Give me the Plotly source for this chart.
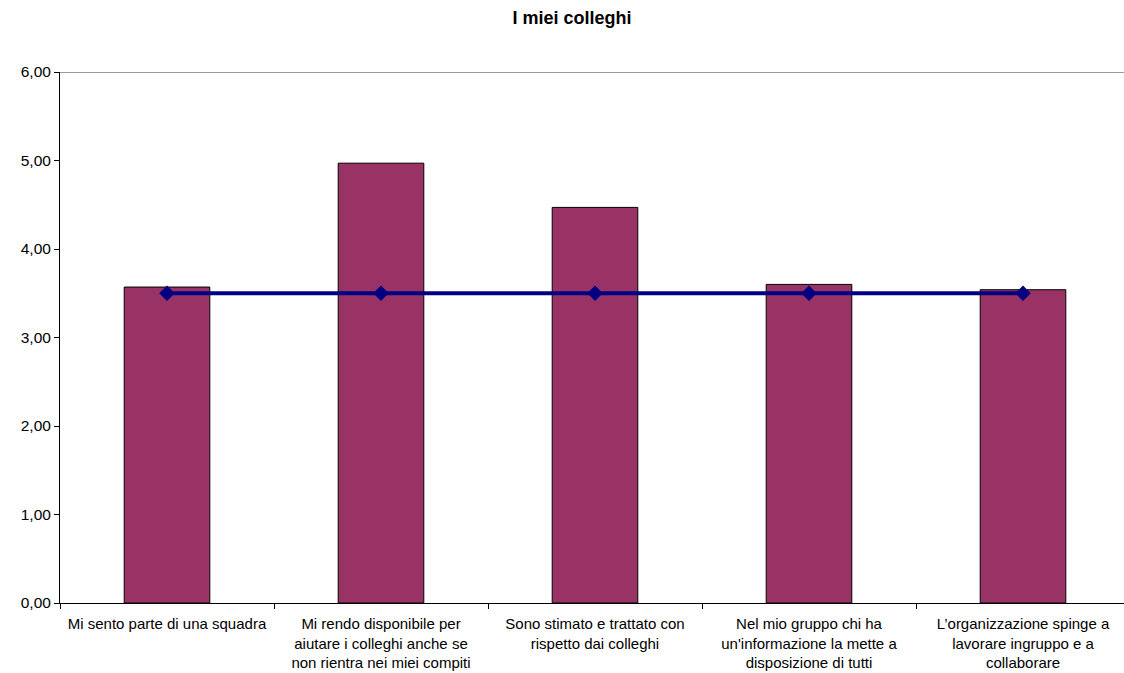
import plotly.graph_objects as go

categories = [
    "Mi sento parte di una squadra",
    "Mi rendo disponibile per<br>aiutare i colleghi anche se<br>non rientra nei miei compiti",
    "Sono stimato e trattato con<br>rispetto dai colleghi",
    "Nel mio gruppo chi ha<br>un'informazione la mette a<br>disposizione di tutti",
    "L\u2019organizzazione spinge a<br>lavorare ingruppo e a<br>collaborare",
]
bar_values = [3.57, 4.97, 4.47, 3.60, 3.54]
line_values = [3.50, 3.50, 3.50, 3.50, 3.50]
y_ticks = [0, 1, 2, 3, 4, 5, 6]

x_idx = list(range(len(categories)))
boundaries = [i - 0.5 for i in x_idx] + [len(categories) - 0.5]

fig = go.Figure()
fig.add_trace(go.Bar(
    x=x_idx, y=bar_values, width=0.40,
    marker=dict(color="#993366", line=dict(color="#000000", width=1)),
    showlegend=False, hoverinfo="y",
))
fig.add_trace(go.Scatter(
    x=x_idx, y=line_values, mode="lines+markers",
    line=dict(color="#000080", width=4),
    marker=dict(symbol="diamond", size=12, color="#000080"),
    showlegend=False,
))

font = "Liberation Sans, Arial, sans-serif"
fig.update_layout(
    width=1124, height=673,
    paper_bgcolor="white", plot_bgcolor="white",
    margin=dict(l=60, r=0, t=72, b=70),
    separators=",.",
    font=dict(family=font, size=15.5, color="black"),
    title=dict(text="<b>I miei colleghi</b>", x=572 / 1124, xref="container", xanchor="center",
               y=1 - 18 / 673, yref="container", yanchor="middle",
               font=dict(family=font, size=18, color="black")),
    xaxis=dict(
        range=[-0.5, 4.5 - 6 / 214],
        tickmode="array", tickvals=x_idx, ticktext=categories,
        ticks="outside", ticklen=7, tickcolor="rgba(0,0,0,0)",
        minor=dict(tickmode="array", tickvals=boundaries, ticks="outside",
                   ticklen=5, tickcolor="black", showgrid=False),
        showline=True, linecolor="black", linewidth=1,
        showgrid=False, zeroline=False, automargin=False,
        tickfont=dict(family=font, size=15, color="black"),
    ),
    yaxis=dict(
        range=[0, 6], tickmode="array", tickvals=y_ticks, tickformat=".2f",
        ticks="outside", ticklen=5, tickcolor="black",
        showline=True, linecolor="black", linewidth=1,
        showgrid=False, zeroline=False, automargin=False,
        tickfont=dict(family=font, size=15.5, color="black"),
    ),
    shapes=[dict(type="line", xref="paper", yref="y", x0=0, x1=1, y0=6, y1=6,
                 line=dict(color="#999999", width=2), layer="below")],
)

fig.write_html(
    "out.html",
    config={"displayModeBar": False},
    post_script="document.body.style.margin='0';document.body.style.overflow='hidden';",
)
